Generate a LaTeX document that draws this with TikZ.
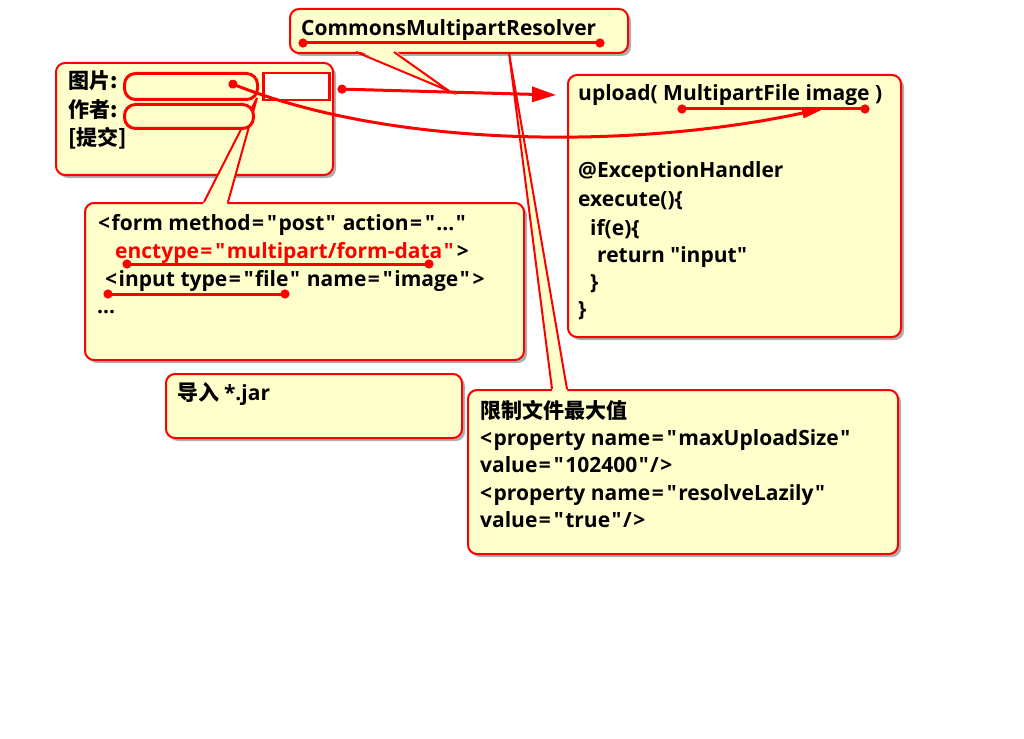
\documentclass[tikz,border=0pt]{standalone}
\usepackage{fontspec}
\setmainfont{Open Sans}[Ligatures=TeXOff]
\newfontfamily\cjk{Noto Sans CJK SC}
\usetikzlibrary{shadows,arrows.meta}
\definecolor{boxyellow}{RGB}{255,255,204}
\definecolor{linered}{RGB}{255,0,0}
\newcommand\myq{\kern1.5pt\char34\kern1.5pt}
\newcommand\myeq{\kern1.5pt=\kern1.5pt}
\newcommand\mylt{<\kern1.5pt}
\newcommand\mygt{\kern1.5pt>}
\begin{document}
\begin{tikzpicture}[x=1pt,y=-1pt,
  box/.style={draw=linered, line width=2pt, fill=boxyellow, rounded corners=9pt, anchor=north west, inner sep=0pt,
    drop shadow={shadow xshift=3pt,shadow yshift=-3pt,opacity=0.45,fill=black!70}},
  field/.style={draw=linered, line width=3pt, fill=boxyellow, rounded corners=11pt, anchor=north west, inner sep=0pt},
  btn/.style={draw=linered, line width=2.5pt, fill=white, anchor=north west, inner sep=0pt},
  txt/.style={anchor=base west, inner sep=0pt, font=\fontsize{21}{26}\selectfont\bfseries},
  cjktxt/.style={anchor=base west, inner sep=0pt, font=\fontsize{21}{26}\selectfont\cjk\bfseries},
  tailline/.style={draw=linered, line width=2pt, line join=miter},
  uline/.style={draw=linered, line width=3pt, {Circle[length=9pt]}-{Circle[length=9pt]}},
  ptr/.style={draw=linered, line width=3pt, {Circle[length=9pt]}-{Triangle[length=24pt,width=15pt]}},
  cptr/.style={draw=linered, line width=3pt, {Circle[length=9pt]}-{Triangle[length=24pt,width=10pt]}},
]
\useasboundingbox (0,0) rectangle (1024,738);
\fill[white] (0,0) rectangle (1024,738);

% boxes
\node[box, minimum width=338pt, minimum height=44pt] (cmr) at (289,8) {};
\node[box, minimum width=277pt, minimum height=112pt] (ui) at (55,62) {};
\node[box, minimum width=333pt, minimum height=262pt] (up) at (567,74) {};
\node[box, minimum width=439pt, minimum height=157pt] (form) at (84,202) {};
\node[box, minimum width=296pt, minimum height=64pt] (imp) at (165,373) {};
\node[box, minimum width=430pt, minimum height=164pt] (lim) at (467,389) {};

% callout tails
\coordinate (cmrA) at (449,91);
\coordinate (cmrL) at (356,52);
\coordinate (cmrR) at (394,52);
\fill[boxyellow] (356,49.5) -- (cmrA) -- (394,49.5) -- cycle;
\draw[tailline] (cmrL) -- (cmrA) -- (cmrR);

\coordinate (limA) at (509,53);
\coordinate (limL) at (552,389);
\coordinate (limR) at (567,389);
\fill[boxyellow] (552.4,392) -- (limA) -- (567.5,392) -- cycle;
\draw[tailline] (limL) -- (limA) -- (limR);

\coordinate (frmA) at (257,98);
\coordinate (frmL) at (204,202);
\coordinate (frmR) at (228,202);
\fill[boxyellow] (202.5,205) -- (frmA) -- (226.6,205) -- cycle;
\draw[tailline] (frmL) -- (frmA) -- (frmR);

% form widgets
\node[field, minimum width=133pt, minimum height=26pt] (f1) at (123,72) {};
\node[field, minimum width=129pt, minimum height=24pt] (f2) at (123,103) {};
\node[btn, minimum width=66pt, minimum height=27pt] (bt) at (262,72) {};

% texts
\node[txt] (tcmr) at (301,36) {CommonsMultipartResolver};
\node[cjktxt] (t1) at (68,89) {图片:};
\node[cjktxt] (t2) at (68,118) {作者:};
\node[cjktxt] (t3) at (68,146) {[提交]};

\node[txt] (u1) at (578,101) {upload( MultipartFile image )};
\node[txt] (u2) at (578,178) {@ExceptionHandler};
\node[txt] (u3) at (578,206) {execute()\{};
\node[txt] (u4) at (590,235) {if(e)\{};
\node[txt] (u5) at (597,262) {return "input"};
\node[txt] (u6) at (590,289) {\}};
\node[txt] (u7) at (578,316) {\}};

\node[txt] (h1) at (98,230) {\mylt form method\myeq\myq post\myq{} action\myeq\myq...\myq};
\node[txt] (h2) at (115,258) {\textcolor{linered}{enctype\myeq\myq multipart/form-data\myq}\mygt};
\node[txt] (h3) at (105,286) {\mylt input type\myeq\myq file\myq{} name\myeq\myq image\myq\mygt};
\node[txt] (h4) at (97,313) {...};

\node[cjktxt] (im) at (177,400) {导入 {\fontspec{Open Sans}\bfseries *.jar}};

\node[cjktxt] (l1) at (480,418) {限制文件最大值};
\node[txt] (l2) at (480,445) {\mylt property name\myeq\myq maxUploadSize\myq};
\node[txt] (l3) at (480,472) {value\myeq\myq 102400\myq/\mygt};
\node[txt] (l4) at (480,500) {\mylt property name\myeq\myq resolveLazily\myq};
\node[txt] (l5) at (480,527) {value\myeq\myq true\myq/\mygt};

% underlines
\coordinate (a1) at (298.5,43);
\coordinate (a2) at (604.5,43);
\draw[uline] (a1) -- (a2);
\coordinate (b1) at (677.5,109);
\coordinate (b2) at (869.5,109);
\draw[uline] (b1) -- (b2);
\coordinate (c1) at (122.5,264);
\coordinate (c2) at (433.5,264);
\draw[uline] (c1) -- (c2);
\coordinate (d1) at (103.5,294);
\coordinate (d2) at (289.5,294);
\draw[uline] (d1) -- (d2);

% arrows
\coordinate (p1) at (337.5,89);
\coordinate (p2) at (556,95);
\draw[ptr] (p1) -- (p2);
\coordinate (q1) at (228.7,82.5);
\coordinate (q2) at (826,108);
\draw[cptr] (q1) .. controls (400,150) and (640,148) .. (q2);
\end{tikzpicture}
\end{document}
